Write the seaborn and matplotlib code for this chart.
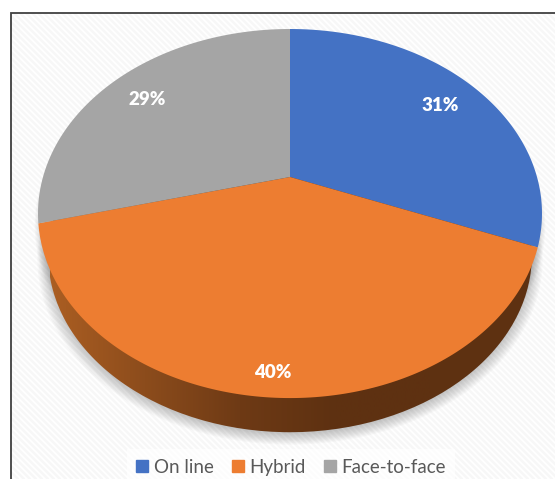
import numpy as np
import matplotlib
matplotlib.use("Agg")
import matplotlib.pyplot as plt
import matplotlib.patches as mpatches
import matplotlib.transforms as mtrans
from matplotlib.colors import LinearSegmentedColormap
from matplotlib.path import Path
import seaborn as sns

categories = ["On line", "Hybrid", "Face-to-face"]
shares = [31, 40, 29]
value_labels = ["31%", "40%", "29%"]
label_radii = [0.8, 0.9, 0.8]
colors = ["#4472C4", "#ED7D31", "#A5A5A5"]
side_stops = ["#AB5E22", "#8C4C1C", "#6E3A15", "#5E3111", "#5E3111"]

CX, CY, KX, KY, R = 290, 177, 247, 177.3, -0.198
W, H = 555, 479

sns.set_theme(style="white")
plt.rcParams["font.family"] = ["Lato", "DejaVu Sans"]


def project(xy):
    xy = np.asarray(xy, float)
    u, v = xy[..., 0], -xy[..., 1]
    d = 1 + R * v
    return np.stack([CX + KX * u / d, CY + KY * v / d], axis=-1)


class Perspective(mtrans.Transform):
    input_dims = output_dims = 2
    is_separable = False
    has_inverse = False

    def transform_non_affine(self, values):
        return project(values)

    def transform_path_non_affine(self, path):
        segs = [b(np.linspace(0, 1, 40)) for b, _ in path.iter_bezier()]
        return Path(project(np.concatenate(segs)))


fig = plt.figure(figsize=(W / 100, H / 100), dpi=100)
ax = fig.add_axes([0, 0, 1, 1])

wedges, _ = ax.pie(shares, colors=colors, startangle=90, counterclock=False,
                   wedgeprops=dict(linewidth=0))
persp = Perspective()
for w in wedges:
    w.set_transform(persp + ax.transData)
    w.set_zorder(5)

ax.set_aspect("auto")
ax.set_xlim(0, W)
ax.set_ylim(H, 0)
ax.set_axis_off()

# frame background with faint diagonal stripes
stripe = np.arange(-H, W + H, 6.0)
bg = mpatches.Rectangle((10.5, 12.5), 560, 480, facecolor="white",
                        edgecolor="none", zorder=0)
ax.add_patch(bg)
for s in stripe:
    ln, = ax.plot([s, s + H], [0, H], color="#F7F7F7", lw=1.8, zorder=0.5)
    ln.set_clip_path(bg)
ax.plot([10.5, 10.5, W + 5], [H + 5, 12.5, 12.5], color="#404040", lw=1.3, zorder=0.8,
        solid_joinstyle="miter")

# extruded side of the disc: lower disc, slightly narrower and shifted down
scale, drop = 0.96, 43
below = (mtrans.Affine2D().translate(-CX, -CY).scale(scale).translate(CX, CY + drop)
         + ax.transData)

# soft shadow
for i in range(16):
    k = 1 + (8 - i) * 0.0055
    t = (mtrans.Affine2D().translate(-CX, -CY).scale(scale * k)
         .translate(CX, CY + drop + 3) + ax.transData)
    ax.add_patch(mpatches.Circle((0, 0), 1, transform=persp + t, facecolor="#555555",
                                 alpha=0.035, linewidth=0, zorder=1))
# left rim shadow next to the face
for i in range(8):
    t = (mtrans.Affine2D().translate(-CX, -CY).scale(0.985 + i * 0.004)
         .translate(CX, CY + 12) + ax.transData)
    ax.add_patch(mpatches.Circle((0, 0), 1, transform=persp + t, facecolor="#555555",
                                 alpha=0.03, linewidth=0, zorder=1))

disc = mpatches.Circle((0, 0), 1, transform=persp + below, facecolor="none",
                       linewidth=0, zorder=2)
ax.add_patch(disc)
cmap = LinearSegmentedColormap.from_list("side", side_stops)
im = ax.imshow(np.linspace(0, 1, 256)[None, :], cmap=cmap, aspect="auto",
               extent=(50, 430, 450, 0), zorder=3)
im2 = ax.imshow(np.ones((1, 2)), cmap=cmap, vmin=0, vmax=1, aspect="auto",
                extent=(430, 545, 450, 0), zorder=3)
im.set_clip_path(disc)
im2.set_clip_path(disc)
ax.set_xlim(0, W)
ax.set_ylim(H, 0)

# value labels at mid-angles of the slices
fracs = np.cumsum([0] + shares) / np.sum(shares)
for i, lab in enumerate(value_labels):
    a = 2 * np.pi * (fracs[i] + fracs[i + 1]) / 2
    x, y = project([label_radii[i] * np.sin(a), label_radii[i] * np.cos(a)])
    ax.text(x, y + 1.5, lab, color="white", fontsize=13.5, fontweight="heavy",
            ha="center", va="center", zorder=6)

handles = [mpatches.Patch(color=c, label=n) for c, n in zip(colors, categories)]
leg = ax.legend(handles=handles, loc="lower center", bbox_to_anchor=(291 / W, -0.013),
                ncol=3, frameon=True, fancybox=False, edgecolor="none", facecolor="white",
                framealpha=0.75, fontsize=13.5, labelcolor="#595959", handlelength=0.64,
                handleheight=0.64, handletextpad=0.27, columnspacing=0.99, borderpad=0.5,
                borderaxespad=0)
leg.set_zorder(6)

fig.savefig("out.png", dpi=100)
